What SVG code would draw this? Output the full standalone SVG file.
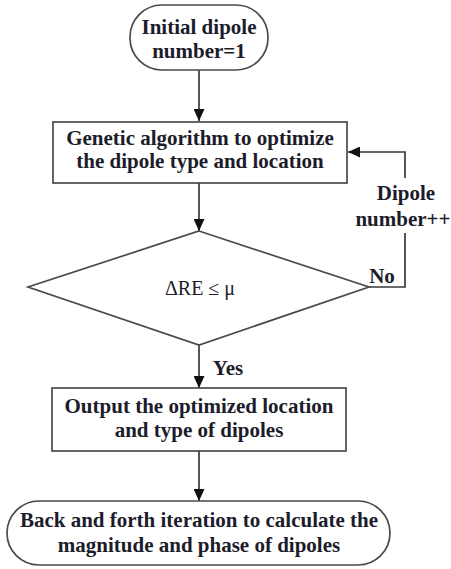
<svg xmlns="http://www.w3.org/2000/svg" width="451" height="569" viewBox="0 0 451 569">
<style>
.shape{fill:#fff;stroke:#4a4a4a;stroke-width:1.7}
.conn{fill:none;stroke:#3a3a3a;stroke-width:1.7}
.t{font-family:"Liberation Serif","Times New Roman",serif;font-size:21px;font-weight:bold;fill:#1c1c2a;text-anchor:middle}
.r{font-weight:normal;font-size:20px}
</style>
<defs>
<marker id="ah" viewBox="0 0 10 10" refX="10" refY="5" markerWidth="12" markerHeight="11" markerUnits="userSpaceOnUse" orient="auto" preserveAspectRatio="none">
<path d="M0,0 L10,5 L0,10 z" fill="#111"/>
</marker>
</defs>
<g id="connectors">
<path class="conn" d="M199,70 V121" marker-end="url(#ah)"/>
<path class="conn" d="M199,183 V231" marker-end="url(#ah)"/>
<path class="conn" d="M199,345 V388" marker-end="url(#ah)"/>
<path class="conn" d="M199,451 V501" marker-end="url(#ah)"/>
<path class="conn" d="M369,287 H405 V233 M405,178 V152 H348" marker-end="url(#ah)"/>
<text class="t" x="406" y="200">Dipole</text>
<text class="t" x="403" y="226">number++</text>
<text class="t" x="382" y="283">No</text>
<text class="t" x="228" y="375">Yes</text>
</g>
<g id="start">
<rect class="shape" x="130" y="5" width="138" height="65" rx="32" ry="32"/>
<text class="t" x="199" y="34">Initial dipole</text>
<text class="t" x="199" y="58">number=1</text>
</g>
<g id="ga">
<rect class="shape" x="53" y="122" width="294" height="61"/>
<text class="t" x="200" y="145">Genetic algorithm to optimize</text>
<text class="t" x="200" y="168">the dipole type and location</text>
</g>
<g id="decision">
<polygon class="shape" points="199,231 369,287 199,345 28,287"/>
<text class="t r" x="200" y="295">ΔRE ≤ μ</text>
</g>
<g id="output">
<rect class="shape" x="52" y="388" width="294" height="63"/>
<text class="t" x="199" y="413">Output the optimized location</text>
<text class="t" x="199" y="437">and type of dipoles</text>
</g>
<g id="end">
<rect class="shape" x="7" y="501" width="383" height="64" rx="32" ry="32"/>
<text class="t" x="199" y="527">Back and forth iteration to calculate the</text>
<text class="t" x="199" y="552">magnitude and phase of dipoles</text>
</g>
</svg>
